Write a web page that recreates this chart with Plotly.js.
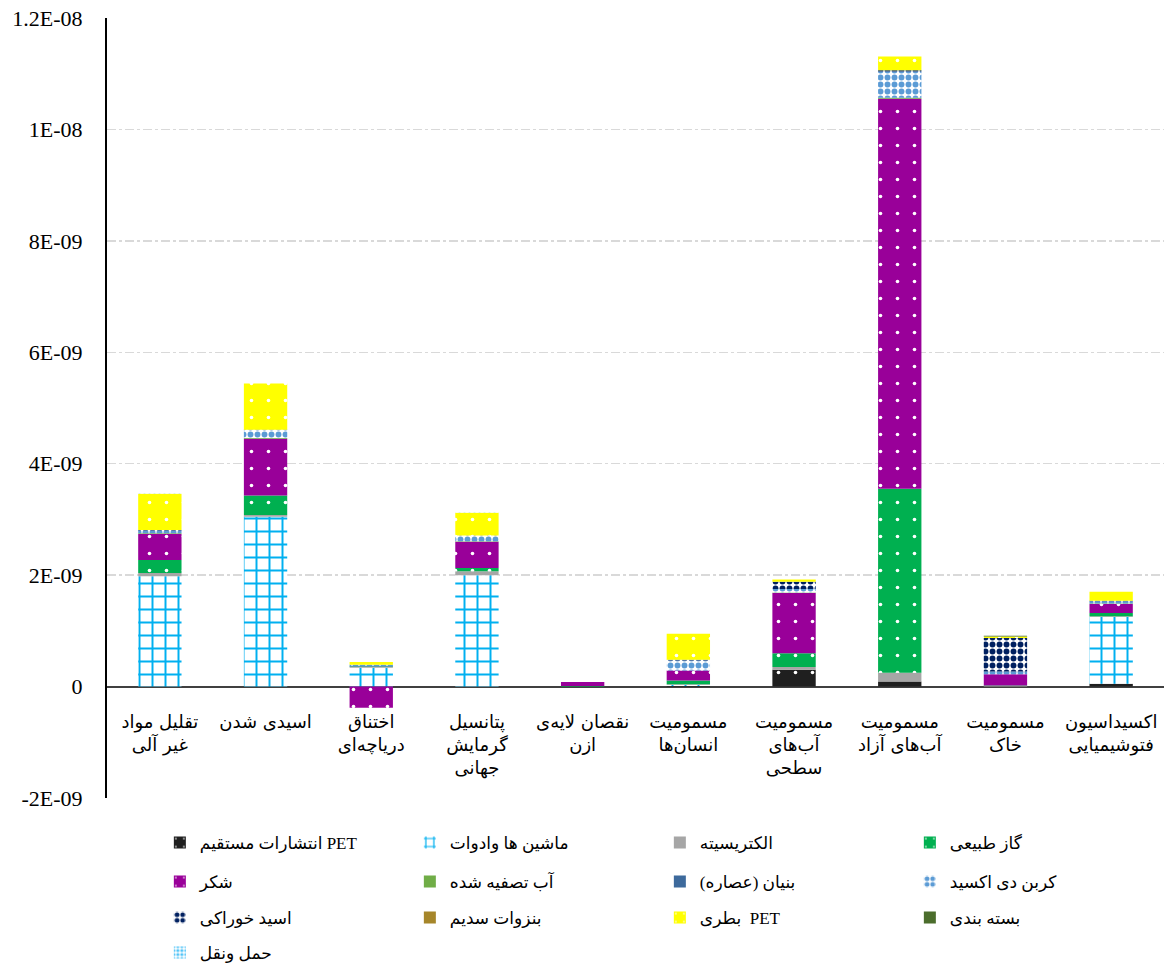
<!DOCTYPE html>
<html>
<head>
<meta charset="utf-8">
<script src="https://cdn.plot.ly/plotly-3.0.1.min.js"></script>
<style>html,body{margin:0;padding:0;background:#fff;}#chart{width:1169px;height:965px;}</style>
</head>
<body>
<div id="chart"></div>
<script>
// Categories (impact categories)
const categories = ["تقلیل مواد غیر آلی", "اسیدی شدن", "اختناق دریاچه‌ای", "پتانسیل گرمایش جهانی", "نقصان لایه‌ی ازن", "مسمومیت انسان‌ها", "مسمومیت آب‌های سطحی", "مسمومیت آب‌های آزاد", "مسمومیت خاک", "اکسیداسیون فتوشیمیایی"];
const tickLabels = ["تقلیل مواد<br>غیر آلی", "اسیدی شدن", "اختناق<br>دریاچه‌ای", "پتانسیل<br>گرمایش<br>جهانی", "نقصان لایه‌ی<br>ازن", "مسمومیت<br>انسان‌ها", "مسمومیت<br>آب‌های<br>سطحی", "مسمومیت<br>آب‌های آزاد", "مسمومیت<br>خاک", "اکسیداسیون<br>فتوشیمیایی"];

// Series values
const petDirect    = [0, 0, 0, 0, 0, 0.01e-9, 0.30e-9, 0.09e-9, 0, 0.05e-9];
const machines     = [1.98e-9, 3.05e-9, 0.34e-9, 2.00e-9, 0, 0.02e-9, 0, 0, 0, 1.20e-9];
const electricity  = [0.06e-9, 0.03e-9, 0.01e-9, 0.07e-9, 0, 0.01e-9, 0.05e-9, 0.16e-9, 0.01e-9, 0.01e-9];
const naturalGas   = [0.23e-9, 0.35e-9, 0.01e-9, 0.06e-9, 0.01e-9, 0.07e-9, 0.25e-9, 3.30e-9, 0.01e-9, 0.06e-9];
const sugar        = [0.47e-9, 1.02e-9, -0.38e-9, 0.47e-9, 0.07e-9, 0.18e-9, 1.08e-9, 7.00e-9, 0.20e-9, 0.16e-9];
const treatedWater = [0.01e-9, 0.01e-9, 0, 0.01e-9, 0, 0, 0.01e-9, 0.02e-9, 0, 0.01e-9];
const extract      = [0, 0, 0.01e-9, 0, 0, 0, 0, 0, 0, 0];
const co2          = [0.05e-9, 0.14e-9, 0.02e-9, 0.09e-9, 0, 0.18e-9, 0.06e-9, 0.47e-9, 0.05e-9, 0.04e-9];
const foodAcid     = [0.01e-9, 0.01e-9, 0, 0.01e-9, 0, 0.01e-9, 0.13e-9, 0.02e-9, 0.60e-9, 0.01e-9];
const benzoate     = [0, 0, 0, 0, 0, 0, 0, 0, 0, 0];
const petBottle    = [0.65e-9, 0.83e-9, 0.05e-9, 0.41e-9, 0, 0.47e-9, 0.04e-9, 0.25e-9, 0.03e-9, 0.16e-9];
const packaging    = [0, 0, 0, 0, 0, 0, 0, 0, 0.01e-9, 0];
const transport    = [0.01e-9, 0, 0, 0.01e-9, 0, 0, 0, 0, 0, 0];

const yTickVals = [-2e-9, 0, 2e-9, 4e-9, 6e-9, 8e-9, 1e-8, 1.2e-8];
const yTickText = ["-2E-09", "0", "2E-09", "4E-09", "6E-09", "8E-09", "1E-08", "1.2E-08"];

function dots(color) {
  return {color: color, line: {width: 0}, pattern: {shape: ".", fgcolor: "#ffffff", bgcolor: color, size: 17, solidity: 0.035}};
}
function checker(color, size, sol) {
  return {color: color, line: {width: 0}, pattern: {shape: ".", fgcolor: color, bgcolor: "#ffffff", size: size, solidity: sol}};
}
function solid(color) { return {color: color, line: {width: 0}}; }

const seriesDefs = [
  {name: "انتشارات مستقیم PET", y: petDirect, marker: dots("#1f1f1f"), legend: "legend"},
  {name: "ماشین ها وادوات", y: machines, marker: {color: "#00b0f0", line: {width: 0}, pattern: {shape: "+", fgcolor: "#00b0f0", bgcolor: "#ffffff", size: 13, solidity: 0.28}}, legend: "legend"},
  {name: "الکتریسیته", y: electricity, marker: solid("#a6a6a6"), legend: "legend"},
  {name: "گاز طبیعی", y: naturalGas, marker: dots("#00b050"), legend: "legend"},
  {name: "شکر", y: sugar, marker: dots("#990099"), legend: "legend2"},
  {name: "آب تصفیه شده", y: treatedWater, marker: solid("#70ad47"), legend: "legend2"},
  {name: "بنیان (عصاره)", y: extract, marker: solid("#3d6a9c"), legend: "legend2"},
  {name: "کربن دی اکسید", y: co2, marker: checker("#5b9bd5", 7, 0.55), legend: "legend2"},
  {name: "اسید خوراکی", y: foodAcid, marker: checker("#002060", 7, 0.55), legend: "legend3"},
  {name: "بنزوات سدیم", y: benzoate, marker: solid("#a6862a"), legend: "legend3"},
  {name: "بطری  PET", y: petBottle, marker: dots("#ffff00"), legend: "legend3"},
  {name: "بسته بندی", y: packaging, marker: solid("#4b6d2c"), legend: "legend3"},
  {name: "حمل ونقل", y: transport, marker: checker("#4fc3f7", 5, 0.5), legend: "legend4"}
];

const traces = seriesDefs.map(s => ({
  type: "bar",
  name: s.name,
  x: categories,
  y: s.y,
  marker: s.marker,
  legend: s.legend,
  hoverinfo: "name+y"
}));

function legendRow(yPaper) {
  return {
    orientation: "h",
    x: 0.05,
    xanchor: "left",
    y: yPaper,
    yanchor: "middle",
    entrywidth: 205,
    entrywidthmode: "pixels",
    itemwidth: 30,
    traceorder: "normal",
    font: {family: "Liberation Serif, DejaVu Sans, serif", size: 17, color: "#000"},
    bgcolor: "rgba(0,0,0,0)"
  };
}

const layout = {
  width: 1169,
  height: 965,
  margin: {l: 107, r: 5, t: 18, b: 167, autoexpand: false},
  paper_bgcolor: "#ffffff",
  plot_bgcolor: "#ffffff",
  barmode: "relative",
  bargap: 0.59,
  showlegend: true,
  font: {family: "Liberation Serif, DejaVu Sans, serif", color: "#000000"},
  xaxis: {
    type: "category",
    tickmode: "array",
    tickvals: categories,
    ticktext: tickLabels,
    anchor: "free",
    position: 2 / 14,
    showline: false,
    showgrid: false,
    zeroline: false,
    ticks: "",
    ticklabelstandoff: 22,
    tickfont: {family: "DejaVu Sans, sans-serif", size: 18, color: "#000"}
  },
  yaxis: {
    range: [-2e-9, 1.2e-8],
    tickmode: "array",
    tickvals: yTickVals,
    ticktext: yTickText,
    showline: true,
    linecolor: "#000000",
    linewidth: 2,
    showgrid: true,
    gridcolor: "#d9d9d9",
    griddash: "dashdot",
    gridwidth: 1.5,
    zeroline: true,
    zerolinecolor: "#404040",
    zerolinewidth: 2,
    ticks: "",
    ticklabelstandoff: 18,
    tickfont: {family: "Liberation Serif, serif", size: 22, color: "#000"}
  },
  legend: legendRow(-45 / 780),
  legend2: legendRow(-84 / 780),
  legend3: legendRow(-120 / 780),
  legend4: legendRow(-155 / 780)
};

Plotly.newPlot("chart", traces, layout, {displayModeBar: false, staticPlot: true});
</script>
</body>
</html>
